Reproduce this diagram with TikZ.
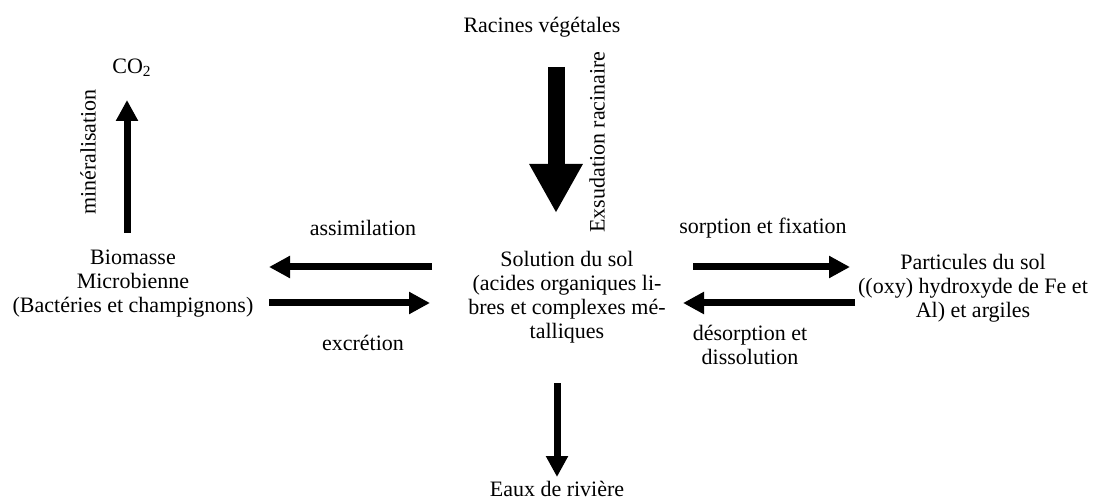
\documentclass[tikz,border=0pt]{standalone}
\usepackage{fontspec}
\setmainfont{Liberation Serif}
\usetikzlibrary{arrows.meta}
\tikzset{
  flux/.style={line width=3.5pt,-{Triangle[length=10.5pt,width=10.5pt]}},
  grosflux/.style={line width=8.5pt,-{Triangle[length=24.5pt,width=25pt]}},
  txt/.style={align=center,font=\fontsize{11}{12}\selectfont,inner sep=0pt},
}
\begin{document}
\begin{tikzpicture}[x=0.5pt,y=-0.5pt]
    \useasboundingbox (0,0) rectangle (1098,502);
    % compartiments
    \node[txt] (racines) at (542,27) {Racines végétales};
    \node[txt] (co2) at (132,68) {CO\textsubscript{2}};
    \node[txt] (biomasse) at (133,284)
        {Biomasse\\Microbienne\\(Bactéries et champignons)};
    \node[txt] (solution) at (567,297)
        {Solution du sol\\(acides organiques li-\\bres et complexes mé-\\talliques};
    \node[txt] (particules) at (973,288)
        {Particules du sol\\((oxy) hydroxyde de Fe et\\Al) et argiles};
    \node[txt] (riviere) at (557,489) {Eaux de rivière};
    % extremites des fleches
    \coordinate (ex1) at (556,67);
    \coordinate (ex2) at (556,213);
    \coordinate (mi1) at (127,233);
    \coordinate (mi2) at (127,100);
    \coordinate (as1) at (432,267);
    \coordinate (as2) at (269,267);
    \coordinate (ec1) at (269,303);
    \coordinate (ec2) at (430,303);
    \coordinate (so1) at (693,267);
    \coordinate (so2) at (850,267);
    \coordinate (de1) at (855,303);
    \coordinate (de2) at (683,303);
    \coordinate (ri1) at (557,383);
    \coordinate (ri2) at (557,477);
    % flux
    \draw[grosflux] (ex1) -- (ex2);
    \draw[flux] (mi1) -- (mi2);
    \draw[flux] (as1) -- (as2);
    \draw[flux] (ec1) -- (ec2);
    \draw[flux] (so1) -- (so2);
    \draw[flux] (de1) -- (de2);
    \draw[flux] (ri1) -- (ri2);
    % etiquettes
    \node[txt,rotate=90] (exsudation) at (597,142) {Exsudation racinaire};
    \node[txt,rotate=90] (mineral) at (88,152) {minéralisation};
    \node[txt] (assimil) at (363,228) {assimilation};
    \node[txt] (excretion) at (363,343) {excrétion};
    \node[txt] (sorption) at (763,228) {sorption et fixation};
    \node[txt] (desorption) at (750,345) {désorption et\\dissolution};
\end{tikzpicture}
\end{document}
